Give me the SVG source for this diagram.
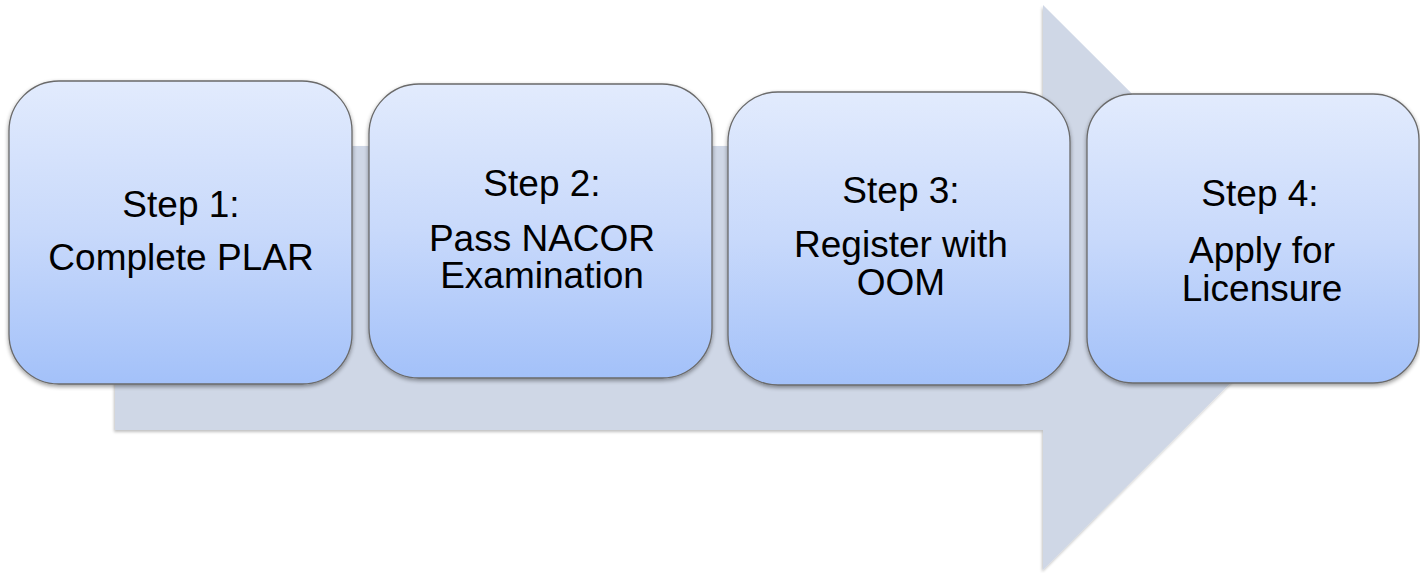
<svg xmlns="http://www.w3.org/2000/svg" width="1420" height="573" viewBox="0 0 1420 573">
  <defs>
    <linearGradient id="boxGrad" x1="0" y1="0" x2="0" y2="1">
      <stop offset="0" stop-color="#e2ebfd"/>
      <stop offset="0.5" stop-color="#c8d9fb"/>
      <stop offset="1" stop-color="#a3c1f9"/>
    </linearGradient>
    <filter id="shadow" x="-10%" y="-10%" width="120%" height="125%">
      <feGaussianBlur in="SourceAlpha" stdDeviation="2"/>
      <feOffset dx="0" dy="2" result="b"/>
      <feComponentTransfer><feFuncA type="linear" slope="0.4"/></feComponentTransfer>
      <feMerge><feMergeNode/><feMergeNode in="SourceGraphic"/></feMerge>
    </filter>
    <filter id="arrowShadow" x="-5%" y="-5%" width="110%" height="110%">
      <feGaussianBlur in="SourceAlpha" stdDeviation="1.5"/>
      <feOffset dx="-1" dy="1.5" result="b"/>
      <feComponentTransfer><feFuncA type="linear" slope="0.25"/></feComponentTransfer>
      <feMerge><feMergeNode/><feMergeNode in="SourceGraphic"/></feMerge>
    </filter>
  </defs>
  <style>
    .box { fill: url(#boxGrad); stroke: #6a6a6a; stroke-width: 1.3; filter: url(#shadow); }
    .lbl { font-family: "Liberation Sans", Arial, sans-serif; font-size: 37px; fill: #000000; text-anchor: middle; }
  </style>
  <rect width="1420" height="573" fill="#ffffff"/>
  <g id="connectors">
    <polygon id="arrow" points="115,146 1043,146 1043,5 1326,287.5 1043,570 1043,430 115,430" fill="#cfd7e6" filter="url(#arrowShadow)"/>
  </g>
  <g id="step1">
    <rect class="box" x="9" y="81" width="343" height="303" rx="50" ry="50"/>
    <text class="lbl" x="181" y="217">Step 1:</text>
    <text class="lbl" x="181" y="270">Complete PLAR</text>
  </g>
  <g id="step2">
    <rect class="box" x="369" y="84" width="343" height="294" rx="50" ry="50"/>
    <text class="lbl" x="542" y="196">Step 2:</text>
    <text class="lbl" x="542" y="251">Pass NACOR</text>
    <text class="lbl" x="542" y="288">Examination</text>
  </g>
  <g id="step3">
    <rect class="box" x="728" y="92" width="342" height="293" rx="50" ry="50"/>
    <text class="lbl" x="901" y="203">Step 3:</text>
    <text class="lbl" x="901" y="257">Register with</text>
    <text class="lbl" x="901" y="295">OOM</text>
  </g>
  <g id="step4">
    <rect class="box" x="1087" y="94" width="332" height="289" rx="46" ry="46"/>
    <text class="lbl" x="1260" y="206">Step 4:</text>
    <text class="lbl" x="1262" y="263">Apply for</text>
    <text class="lbl" x="1262" y="301">Licensure</text>
  </g>
</svg>
